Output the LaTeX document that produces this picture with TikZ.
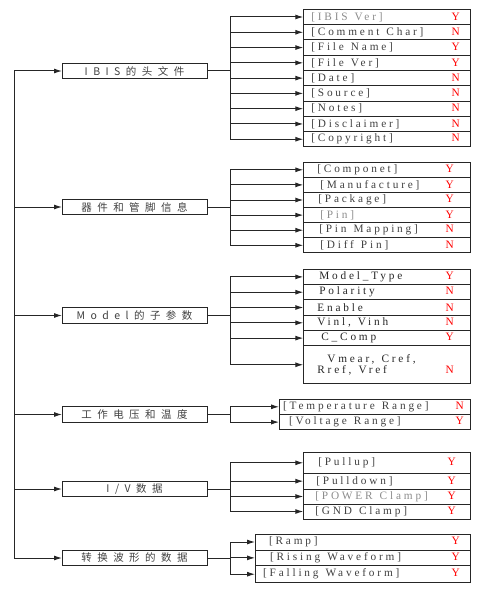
\documentclass[tikz,border=0pt]{standalone}
\usepackage{fontspec}
\setmainfont{Liberation Serif}
\newfontfamily\cjk[LetterSpace=52]{Noto Sans CJK SC}
\newfontfamily\spc[LetterSpace=25]{Liberation Serif}
\usetikzlibrary{arrows.meta,positioning}
\newcommand{\ansY}{\hfill{\rmfamily\color{red}Y}\hspace*{3pt}}
\newcommand{\ansN}{\hfill{\rmfamily\color{red}N}\hspace*{3pt}}
\newcommand{\wsp}{\hspace*{7pt}}

\begin{document}
\begin{tikzpicture}[x=1pt, y=-1pt,
        line/.style={draw=black!85, line width=1pt},
        arr/.style={line, -{Latex[length=8pt,width=5pt]}},
        cat/.style={draw=black!85, line width=1pt, outer sep=0pt, inner sep=0pt,
            minimum width=145pt, minimum height=15.5pt,
            font=\cjk\fontsize{10.5}{12}\selectfont, text=black!75},
        row/.style={draw=black!85, line width=1pt, outer sep=0pt, inner ysep=1pt,
            minimum height=15.3pt, align=left,
            font=\spc\fontsize{11.3}{11.5}\selectfont, text=black!75},
        light/.style={text=black!45},
        g1/.style={row, inner xsep=8pt, text width=151.4pt, minimum height=15.28pt},
        g2/.style={row, inner xsep=14pt, text width=139.4pt, minimum height=15.1pt},
        g3/.style={row, inner xsep=14pt, text width=139.4pt, text=black!85},
        g4/.style={row, inner xsep=4pt, text width=183.7pt},
        g5/.style={row, inner xsep=12pt, text width=143.4pt},
        g6/.style={row, inner xsep=8pt, text width=199.7pt}
    ]
    \useasboundingbox (0,0) rectangle (487,591);
    \coordinate (spine) at (14,0);
    \coordinate (bus) at (230,0);

    % categories
    \node[cat] (hdr) at (134.5,71) {IBIS的头文件};
    \node[cat] (pin) at (134.5,207) {器件和管脚信息};
    \node[cat] (mdl) at (134.5,315.5) {Model的子参数};
    \node[cat] (env) at (134.5,414.5) {工作电压和温度};
    \node[cat] (iv) at (134.5,489) {I/V数据};
    \node[cat] (wav) at (134.5,558) {转换波形的数据};

    % header keywords
    \node[g1, light] (h1) at (387,17) {[IBIS\wsp Ver]\ansY};
    \node[g1, below=0pt of h1] (h2) {[Comment\wsp Char]\ansN};
    \node[g1, below=0pt of h2] (h3) {[File\wsp Name]\ansY};
    \node[g1, below=0pt of h3] (h4) {[File\wsp Ver]\ansY};
    \node[g1, below=0pt of h4] (h5) {[Date]\ansN};
    \node[g1, below=0pt of h5] (h6) {[Source]\ansN};
    \node[g1, below=0pt of h6] (h7) {[Notes]\ansN};
    \node[g1, below=0pt of h7] (h8) {[Disclaimer]\ansN};
    \node[g1, below=0pt of h8] (h9) {[Copyright]\ansN};

    % component and pins
    \node[g2] (p1) at (387,169.8) {[Componet]\ansY};
    \node[g2, below=0pt of p1] (p2) {\hspace*{3pt}[Manufacture]\ansY};
    \node[g2, below=0pt of p2] (p3) {\hspace*{1pt}[Package]\ansY};
    \node[g2, below=0pt of p3, light] (p4) {\hspace*{3pt}[Pin]\ansY};
    \node[g2, below=0pt of p4] (p5) {\hspace*{2pt}[Pin\wsp Mapping]\ansN};
    \node[g2, below=0pt of p5] (p6) {\hspace*{3pt}[Diff\wsp Pin]\ansN};

    % model sub-parameters
    \node[g3] (m1) at (387,276.9) {\hspace*{2pt}Model\_Type\ansY};
    \node[g3, below=0pt of m1] (m2) {\hspace*{2pt}Polarity\ansN};
    \node[g3, below=0pt of m2] (m3) {Enable\ansN};
    \node[g3, below=0pt of m3] (m4) {Vinl,\wsp Vinh\ansN};
    \node[g3, below=0pt of m4] (m5) {\hspace*{4pt}C\_Comp\ansY};
    \node[g3, below=0pt of m5, minimum height=38pt] (m6) {\hspace*{10pt}Vmear,\wsp Cref,\\Rref,\wsp Vref\ansN};

    % voltage and temperature
    \node[g4] (e1) at (374.9,406.8) {[Temperature\wsp Range]\ansN};
    \node[g4, below=0pt of e1] (e2) {\hspace*{6pt}[Voltage\wsp Range]\ansY};

    % I/V data
    \node[g5, minimum height=21pt] (v1) at (387,462.8) {\hspace*{3pt}[Pullup]\ansY};
    \node[g5, below=0pt of v1, minimum height=15.7pt] (v2) {\hspace*{1pt}[Pulldown]\ansY};
    \node[g5, below=0pt of v2, light, minimum height=15pt] (v3) {[POWER\wsp Clamp]\ansY};
    \node[g5, below=0pt of v3, minimum height=15pt] (v4) {[GND\wsp Clamp]\ansY};

    % waveforms
    \node[g6, minimum height=16pt] (w1) at (362.9,542) {\hspace*{6pt}[Ramp]\ansY};
    \node[g6, below=0pt of w1, minimum height=15.7pt] (w2) {\hspace*{7pt}[Rising\wsp Waveform]\ansY};
    \node[g6, below=0pt of w2, minimum height=17pt] (w3) {[Falling\wsp Waveform]\ansY};

    % connectors
    \draw[line] (hdr -| spine) -- (wav -| spine);
    \foreach \c in {hdr,pin,mdl,env,iv,wav}
        \draw[arr] (\c -| spine) -- (\c);

    \draw[line] (hdr) -- (hdr -| bus);
    \draw[line] (h1 -| bus) -- (h9 -| bus);
    \foreach \i in {1,...,9}
        \draw[arr] (h\i -| bus) -- (h\i);

    \draw[line] (pin) -- (pin -| bus);
    \draw[line] (p1 -| bus) -- (p6 -| bus);
    \foreach \i in {1,...,6}
        \draw[arr] (p\i -| bus) -- (p\i);

    \draw[line] (mdl) -- (mdl -| bus);
    \draw[line] (m1 -| bus) -- (m6 -| bus);
    \foreach \i in {1,...,6}
        \draw[arr] (m\i -| bus) -- (m\i);

    \draw[line] (env) -- (env -| bus);
    \draw[line] (e1 -| bus) -- (e2 -| bus);
    \foreach \i in {1,2}
        \draw[arr] (e\i -| bus) -- (e\i);

    \draw[line] (iv) -- (iv -| bus);
    \draw[line] (v1 -| bus) -- (v4 -| bus);
    \foreach \i in {1,...,4}
        \draw[arr] (v\i -| bus) -- (v\i);

    \draw[line] (wav) -- (wav -| bus);
    \draw[line] (w1 -| bus) -- (w3 -| bus);
    \foreach \i in {1,2,3}
        \draw[arr] (w\i -| bus) -- (w\i);
\end{tikzpicture}
\end{document}
